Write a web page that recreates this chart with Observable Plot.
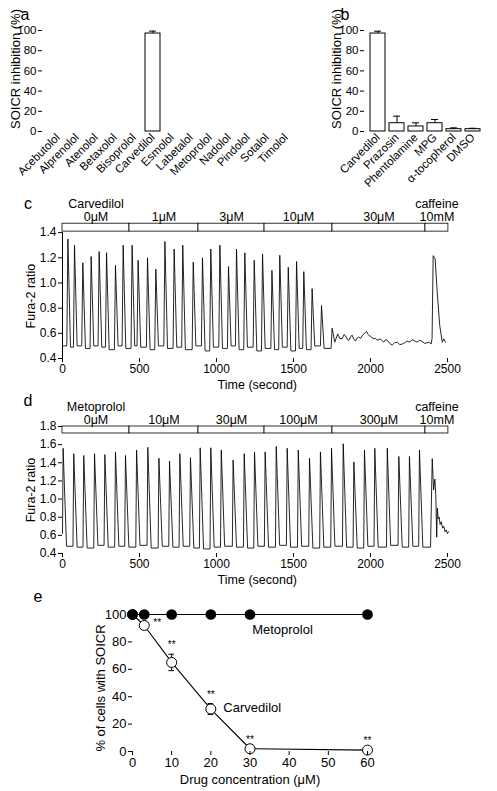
<!DOCTYPE html>
<html><head><meta charset="utf-8">
<script src="https://cdn.jsdelivr.net/npm/d3@7"></script>
<script src="https://cdn.jsdelivr.net/npm/@observablehq/plot@0.6"></script>
<style>
body{margin:0;background:#fff;}
#root{position:relative;width:497px;height:791px;overflow:hidden;background:#fff;font-family:"Liberation Sans",Arial,Helvetica,sans-serif;color:#000;}
.letter{position:absolute;transform:translate(-50%,-50%);font-size:16px;line-height:1;}
.panel{position:absolute;}
</style></head><body><div id="root"></div>
<script>
// ---------- data ----------
const drugsA = ["Acebutolol","Alprenolol","Atenolol","Betaxolol","Bisoprolol","Carvedilol","Esmolol","Labetalol","Metoprolol","Nadolol","Pindolol","Sotalol","Timolol"];
const inhibA = [0,0,0,0,0,97,0,0,0,0,0,0,0];
const errA   = [0,0,0,0,0,2.4,0,0,0,0,0,0,0];

const drugsB = ["Carvedilol","Prazosin","Phentolamine","MPG","α-tocopherol","DMSO"];
const inhibB = [97,8.2,5,8.2,2.3,2.3];
const errB   = [2.3,7,3.6,3.7,1.3,0.9];

const yTicksBar = [0,20,40,60,80,100];
const timeTicks = [0,500,1000,1500,2000,2500];

// panel c (carvedilol trace)
const cStart = [0,0.5];
const cPeakT = [35,78,132,186,238,286,344,394,452,491,552,606,665,725,781,849,909,963,1022,1078,1130,1184,1245,1299,1360,1411,1466,1520,1567,1621,1682,1751];
const cPeakV = [1.35,1.30,1.16,1.21,1.25,1.24,1.14,1.30,1.30,1.18,1.20,1.11,1.33,1.27,1.30,1.165,1.20,1.27,1.30,1.13,1.27,1.24,1.18,1.23,1.10,1.22,1.125,1.17,1.09,0.955,0.82,0.64];
const cTroughV = [0.49,0.50,0.48,0.50,0.49,0.47,0.50,0.48,0.50,0.49,0.47,0.50,0.48,0.49,0.47,0.50,0.46,0.49,0.48,0.50,0.47,0.49,0.46,0.48,0.47,0.49,0.46,0.48,0.47,0.50,0.48,0.53];
const cTailT = [1787,1800,1816,1828,1838,1850,1860,1872,1881,1893,1903,1915,1924,1936,1946,1960,1974,1985,1996,2010,2022,2033,2044,2055,2065,2076,2087,2098,2109,2125,2141,2157,2174,2190,2206,2222,2238,2255,2271,2287,2303,2320,2336,2352,2368,2381,2394,2400,2407,2420,2433,2450,2466,2476,2487];
const cTailV = [0.595,0.56,0.556,0.59,0.58,0.55,0.545,0.575,0.585,0.55,0.54,0.565,0.57,0.56,0.58,0.6,0.614,0.59,0.58,0.565,0.556,0.56,0.545,0.55,0.556,0.54,0.53,0.55,0.545,0.52,0.506,0.525,0.53,0.51,0.515,0.525,0.538,0.53,0.55,0.54,0.53,0.545,0.535,0.52,0.525,0.53,0.515,0.56,1.217,1.19,0.93,0.66,0.53,0.556,0.53];
const cYTicks = [0.4,0.6,0.8,1.0,1.2,1.4];
const cSegStart = [0,435,883,1312,1753,2357];
const cSegEnd   = [435,883,1312,1753,2357,2506];
const cSegLabel = ["Carvedilol\n0μM","1μM","3μM","10μM","30μM","caffeine\n10mM"];

// panel d (metoprolol trace)
const dStart = [0,0.62];
const dPeakT = [4,73,138,208,275,344,409,481,554,626,695,762,831,894,963,1031,1108,1180,1247,1316,1388,1459,1531,1604,1675,1747,1823,1892,1961,2028,2109,2184,2253,2318];
const dPeakV = [1.56,1.50,1.48,1.50,1.49,1.52,1.48,1.54,1.57,1.45,1.42,1.50,1.455,1.565,1.565,1.54,1.43,1.50,1.52,1.52,1.58,1.56,1.54,1.45,1.52,1.56,1.61,1.41,1.54,1.56,1.56,1.47,1.47,1.54];
const dTroughV = [0.48,0.47,0.46,0.49,0.47,0.48,0.47,0.49,0.46,0.48,0.47,0.48,0.46,0.45,0.47,0.48,0.47,0.46,0.48,0.47,0.49,0.47,0.48,0.46,0.47,0.48,0.47,0.46,0.48,0.47,0.49,0.47,0.48,0.47];
const dTailT = [2390,2401,2410,2418,2424,2430,2434,2440,2446,2452,2460,2468,2476,2484,2492,2500,2508];
const dTailV = [0.47,1.444,1.1,1.22,1.05,0.58,0.9,0.78,0.8,0.72,0.75,0.68,0.7,0.64,0.66,0.62,0.64];
const dYTicks = [0.4,0.6,0.8,1.0,1.2,1.4,1.6,1.8];
const dSegStart = [0,435,883,1312,1753,2357];
const dSegEnd   = [435,883,1312,1753,2357,2506];
const dSegLabel = ["Metoprolol\n0μM","10μM","30μM","100μM","300μM","caffeine\n10mM"];

// panel e
const concE = [0,3,10,20,30,60];
const metoE = [100,100,100,100,100,100];
const carvE = [100,92,65,31,2,1];
const carvErrE = [0,2,6,4,0,0];
const sigE = ["","**","**","**","**","**"];
const eXTicks = [0,10,20,30,40,50,60];

// ---------- rendering ----------
const FONT = '"Liberation Sans", Arial, Helvetica, sans-serif';
const root = document.getElementById("root");
function place(el, left, top){ el.classList.add("panel"); el.style.left = left+"px"; el.style.top = top+"px"; root.appendChild(el); }
function letter(t, x, y){ const d=document.createElement("div"); d.className="letter"; d.textContent=t; d.style.left=x+"px"; d.style.top=y+"px"; root.appendChild(d); }
function style(fs){ return {fontFamily:FONT, fontSize:fs+"px", background:"transparent", overflow:"visible", color:"#000"}; }

function barPanel(names, vals, errs, W, H, ml, mr, dxLab){
  const data = names.map((n,i)=>({n, v:vals[i], e:errs[i]}));
  const withErr = data.filter(d=>d.e>0);
  return Plot.plot({
    width:W, height:H, marginLeft:ml, marginRight:mr, marginTop:30, marginBottom:H-131,
    style: style(11.5),
    x:{domain:names, padding:0.2, label:null},
    y:{domain:[0,100], label:null},
    marks:[
      Plot.barY(data.filter(d=>d.v>0), {x:"n", y:"v", fill:"white", stroke:"black", strokeWidth:1}),
      Plot.ruleX(withErr, {x:"n", y1:"v", y2:d=>d.v+d.e, stroke:"black", strokeWidth:1}),
      Plot.tickY(withErr, {x:"n", y:d=>d.v+d.e, insetLeft:4, insetRight:4, stroke:"black", strokeWidth:1}),
      Plot.axisY({ticks:yTicksBar, tickSize:4, tickPadding:2, label:null, line:true}),
      Plot.axisX({tickRotate:-45, tickSize:0, tickPadding:4, label:null, line:true}),
      Plot.text(["SOICR inhibition (%)"], {text:d=>d, frameAnchor:"left", textAnchor:"middle", lineAnchor:"middle", rotate:-90, dx:dxLab, dy:-12, fontSize:13})
    ]
  });
}

place(barPanel(drugsA, inhibA, errA, 310, 195, 42, 9, -27), 0, 0);
place(barPanel(drugsB, inhibB, errB, 167, 195, 34, 10, -28), 330, 0);
letter("a", 25, 15);
letter("b", 345, 15);

function buildTrace(start, peakT, peakV, troughV, tailT, tailV, rise, decay){
  const pts = [{t:start[0], v:start[1]}];
  peakT.forEach((t,i)=>{
    const prev = i===0 ? start[1] : troughV[i-1];
    if (t - rise > pts[pts.length-1].t) pts.push({t:t-rise, v:prev});
    pts.push({t, v:peakV[i]});
    pts.push({t:t+decay, v:troughV[i]});
  });
  tailT.forEach((t,i)=>pts.push({t, v:tailV[i]}));
  return pts;
}

function tracePanel(pts, yDom, yTicks, segS, segE, segL, boxLo, boxHi, top, fullAxis){
  const H = 205;
  const yTopPx = fullAxis ? 426 : 223.2;
  const yBotPx = fullAxis ? 553 : 358;
  const segs = segS.map((s,i)=>({s, e:segE[i], l:segL[i]}));
  const marks = [
    Plot.rect(segs, {x1:"s", x2:"e", y1:boxLo, y2:boxHi, fill:"white", stroke:"black", strokeWidth:0.8}),
    Plot.text(segs, {x:d=>(d.s+d.e)/2, y:boxHi, text:"l", lineAnchor:"bottom", dy:-3, fontSize:12.5, lineHeight:1.0}),
    Plot.line(pts, {x:"t", y:"v", stroke:"#000", strokeWidth:0.85}),
    Plot.axisY({ticks:yTicks, tickFormat:d=>d.toFixed(1), tickSize:4, tickPadding:2, label:null, line:fullAxis}),
    Plot.axisX({ticks:timeTicks, tickFormat:d=>String(d), tickSize:4, tickPadding:2, label:null, line:true}),
    Plot.text(["Time (second)"], {text:d=>d, frameAnchor:"bottom", lineAnchor:"middle", dy:26, fontSize:12.5}),
    Plot.text(["Fura-2 ratio"], {text:d=>d, frameAnchor:"left", textAnchor:"middle", lineAnchor:"middle", rotate:-90, dx:-32, dy: fullAxis ? 0 : 5, fontSize:12.5})
  ];
  if (!fullAxis) marks.push(Plot.ruleX([0], {y1:yDom[0], y2:yTicks[yTicks.length-1], stroke:"black"}));
  return Plot.plot({
    width:497, height:H, marginLeft:62, marginRight:45.4,
    marginTop: yTopPx - top, marginBottom: top + H - yBotPx,
    style: style(12),
    x:{domain:[0,2530], label:null},
    y:{domain:yDom, label:null},
    marks
  });
}

const cPts = buildTrace(cStart, cPeakT, cPeakV, cTroughV, cTailT, cTailV, 7, 17);
place(tracePanel(cPts, [0.4,1.471], cYTicks, cSegStart, cSegEnd, cSegLabel, 1.408, 1.471, 190, false), 0, 190);
letter("c", 28, 204);

const dPts = buildTrace(dStart, dPeakT, dPeakV, dTroughV, dTailT, dTailV, 5, 22);
place(tracePanel(dPts, [0.4,1.8], dYTicks, dSegStart, dSegEnd, dSegLabel, 1.723, 1.8, 385, true), 0, 385);
letter("d", 28, 401);

// panel e
const eData = concE.map((x,i)=>({x, m:metoE[i], c:carvE[i], err:carvErrE[i], s:sigE[i]}));
const eErr = eData.filter(d=>d.err>0);
const eSig1 = eData.filter((d,i)=>d.s && i===1);
const eSig = eData.filter((d,i)=>d.s && i>1);
const pe = Plot.plot({
  width:497, height:201, marginLeft:132, marginRight:130, marginTop:24, marginBottom:40,
  style: style(13),
  x:{domain:[0,60], label:null},
  y:{domain:[0,100], label:null},
  marks:[
    Plot.line(eData, {x:"x", y:"c", stroke:"#000", strokeWidth:1.1}),
    Plot.ruleX(eErr, {x:"x", y1:d=>d.c-d.err, y2:d=>d.c+d.err, stroke:"#000"}),
    Plot.ruleY(eErr, {y:d=>d.c+d.err, x1:d=>d.x-0.7, x2:d=>d.x+0.7, stroke:"#000"}),
    Plot.ruleY(eErr, {y:d=>d.c-d.err, x1:d=>d.x-0.7, x2:d=>d.x+0.7, stroke:"#000"}),
    Plot.dot(eData, {x:"x", y:"c", r:5, fill:"white", stroke:"#000", strokeWidth:1}),
    Plot.line(eData, {x:"x", y:"m", stroke:"#000", strokeWidth:1}),
    Plot.dot(eData, {x:"x", y:"m", r:4.6, fill:"#000", stroke:"#000"}),
    Plot.text(eSig1, {x:"x", y:"c", text:"s", dx:13, dy:-3, fontSize:10}),
    Plot.text(eSig, {x:"x", y:d=>d.c+d.err, text:"s", dy:-9, fontSize:10}),
    Plot.text(["Metoprolol"], {x:38.3, y:89, text:d=>d, fontSize:13}),
    Plot.text(["Carvedilol"], {x:23.2, y:32, text:d=>d, textAnchor:"start", fontSize:13}),
    Plot.axisY({ticks:yTicksBar, tickSize:4, tickPadding:2, label:null, line:true}),
    Plot.axisX({ticks:eXTicks, tickSize:4, tickPadding:2, label:null, line:true}),
    Plot.text(["Drug concentration (μM)"], {text:d=>d, frameAnchor:"bottom", lineAnchor:"middle", dy:28, fontSize:13}),
    Plot.text(["% of cells with SOICR"], {text:d=>d, frameAnchor:"left", textAnchor:"middle", lineAnchor:"middle", rotate:-90, dx:-32, dy:5, fontSize:13})
  ]
});
place(pe, 0, 590);
letter("e", 38, 597);
</script>
</body></html>
